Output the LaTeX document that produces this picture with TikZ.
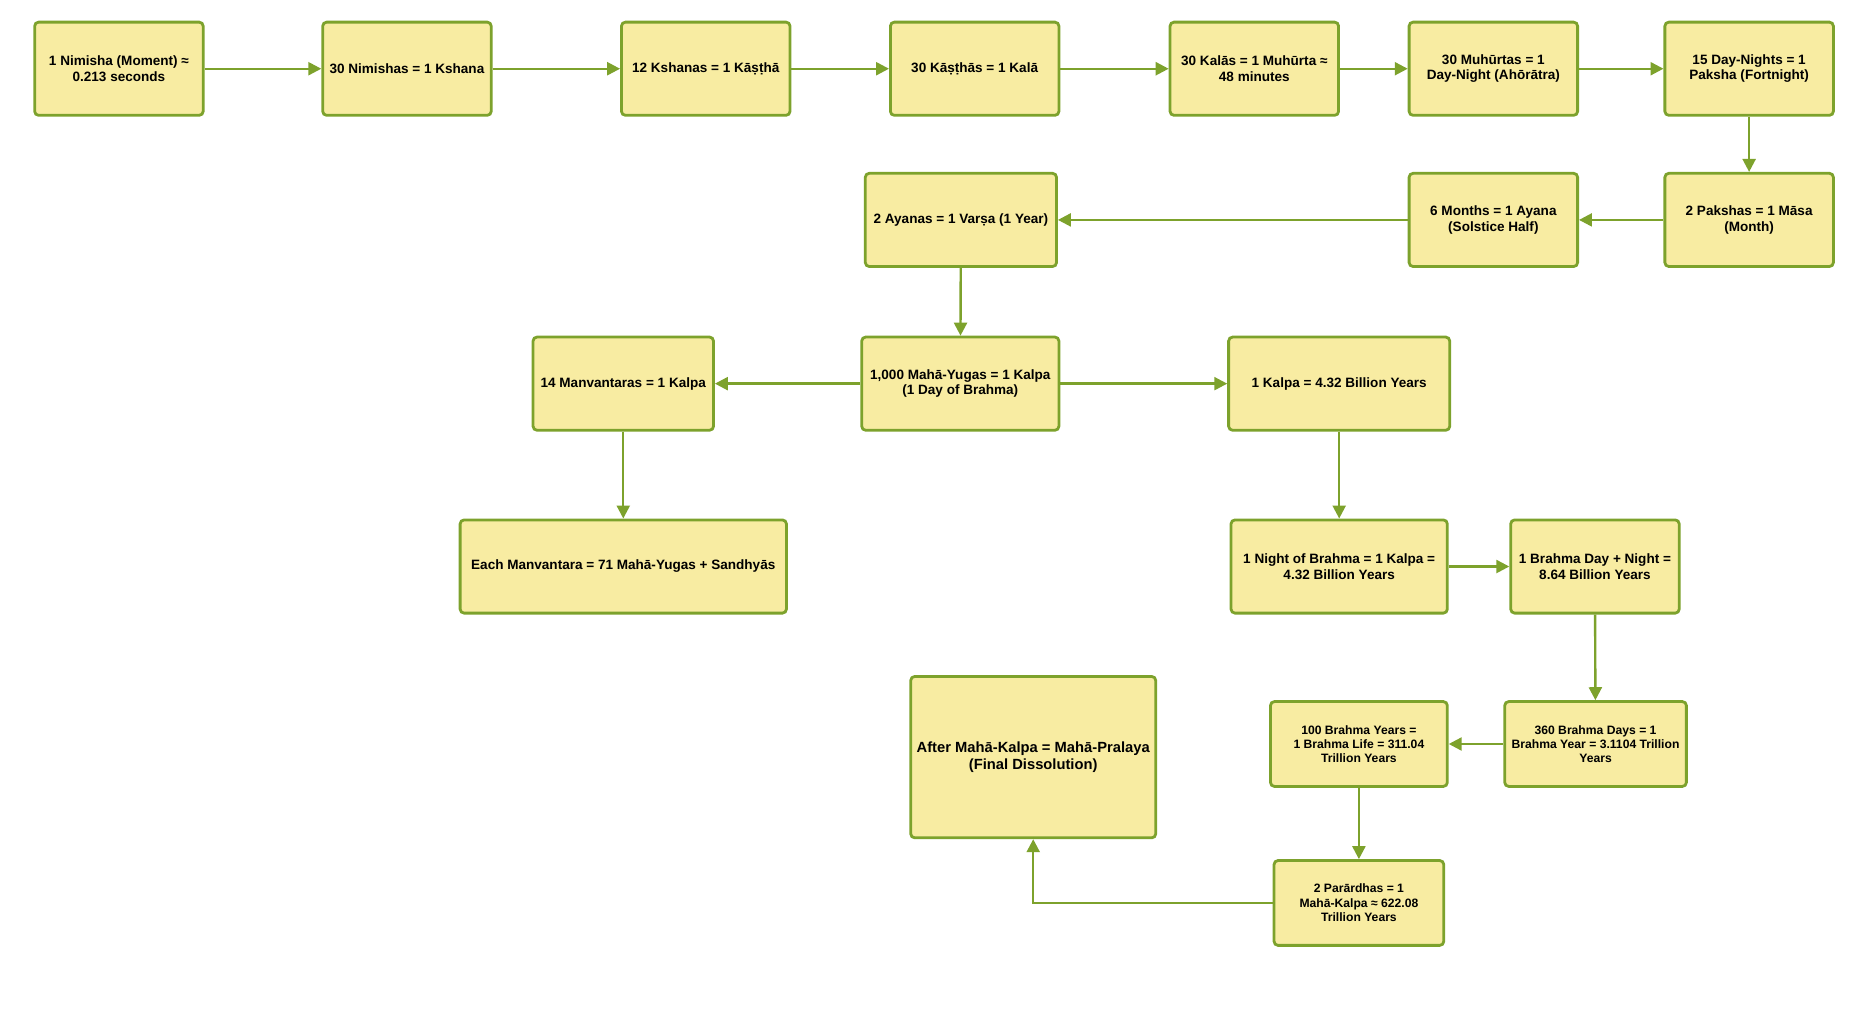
\documentclass[tikz,border=0pt]{standalone}
\usepackage{fontspec}
\setmainfont{Liberation Sans}
\usepackage{tikz}
\usetikzlibrary{shapes.geometric, arrows.meta}
\definecolor{leaf}{HTML}{7DA22C}
\definecolor{straw}{HTML}{F8ECA2}
\tikzstyle{unit} = [rectangle, rounded corners=2pt, minimum width=84.6pt, minimum height=46.8pt, text centered, align=center, draw=leaf, line width=1.4pt, fill=straw, inner sep=1pt, font=\fontsize{6.8}{7.7}\selectfont\bfseries]
\tikzstyle{small} = [font=\fontsize{6.1}{7.2}\selectfont\bfseries]
\tikzstyle{arrow} = [line width=1.2pt, draw=leaf, -{Triangle[length=6.5pt,width=6.5pt]}]

\begin{document}
\begin{tikzpicture}[x=0.6pt, y=-0.6pt]
    \useasboundingbox [fill=white] (0,0) rectangle (1568,847);
    % row 1
    \node (Nimisha) [unit] at (99.5,57.5) {1 Nimisha (Moment) ≈\\0.213 seconds};
    \node (Kshana) [unit] at (340.5,57.5) {30 Nimishas = 1 Kshana};
    \node (Kashtha) [unit] at (590.5,57.5) {12 Kshanas = 1 Kāṣṭhā};
    \node (Kala) [unit] at (815.5,57.5) {30 Kāṣṭhās = 1 Kalā};
    \node (Muhurta) [unit] at (1049.5,57.5) {30 Kalās = 1 Muhūrta ≈\\48 minutes};
    \node (DayNight) [unit] at (1249.5,57.5) {30 Muhūrtas = 1\\Day-Night (Ahōrātra)};
    \node (Paksha) [unit] at (1463.5,57.5) {15 Day-Nights = 1\\Paksha (Fortnight)};
    % row 2
    \node (Masa) [unit] at (1463.5,184) {2 Pakshas = 1 Māsa\\(Month)};
    \node (Ayana) [unit] at (1249.5,184) {6 Months = 1 Ayana\\(Solstice Half)};
    \node (Varsa) [unit, minimum width=96pt] at (804,184) {2 Ayanas = 1 Varṣa (1 Year)};
    % row 3
    \node (Kalpa) [unit, minimum width=99pt] at (803.5,321) {1,000 Mahā-Yugas = 1 Kalpa\\(1 Day of Brahma)};
    \node (Manvantara) [unit, minimum width=90.6pt] at (521.5,321) {14 Manvantaras = 1 Kalpa};
    \node (KalpaYears) [unit, minimum width=111pt] at (1120.5,321) {1 Kalpa = 4.32 Billion Years};
    % row 4
    \node (ManvantaraYugas) [unit, minimum width=163.8pt] at (521.5,474) {Each Manvantara = 71 Mahā-Yugas + Sandhyās};
    \node (BrahmaNight) [unit, minimum width=108.6pt] at (1120.5,474) {1 Night of Brahma = 1 Kalpa =\\4.32 Billion Years};
    \node (BrahmaDayNight) [unit] at (1334.5,474) {1 Brahma Day + Night =\\8.64 Billion Years};
    % rows 5 and 6
    \node (Pralaya) [unit, minimum width=123pt, minimum height=81pt, font=\fontsize{7.4}{8.4}\selectfont\bfseries] at (864.5,633.5) {After Mahā-Kalpa = Mahā-Pralaya\\(Final Dissolution)};
    \node (BrahmaLife) [unit, small, minimum width=88.8pt, minimum height=42.6pt] at (1137,622.5) {100 Brahma Years =\\1 Brahma Life = 311.04\\Trillion Years};
    \node (BrahmaYear) [unit, small, minimum width=91.2pt, minimum height=42.6pt] at (1335,622.5) {360 Brahma Days = 1\\Brahma Year = 3.1104 Trillion\\Years};
    \node (MahaKalpa) [unit, small, minimum width=85.2pt, minimum height=42.6pt] at (1137,755.5) {2 Parārdhas = 1\\Mahā-Kalpa ≈ 622.08\\Trillion Years};

    \draw [arrow] (Nimisha) -- (Kshana);
    \draw [arrow] (Kshana) -- (Kashtha);
    \draw [arrow] (Kashtha) -- (Kala);
    \draw [arrow] (Kala) -- (Muhurta);
    \draw [arrow] (Muhurta) -- (DayNight);
    \draw [arrow] (DayNight) -- (Paksha);
    \draw [arrow] (Paksha) -- (Masa);
    \draw [arrow] (Masa) -- (Ayana);
    \draw [arrow] (Ayana) -- (Varsa);
    \draw [arrow] (Varsa) -- (Kalpa);
    \draw [arrow] (Kalpa) -- (Manvantara);
    \draw [arrow] (Kalpa) -- (KalpaYears);
    \draw [arrow] (Manvantara) -- (ManvantaraYugas);
    \draw [arrow] (KalpaYears) -- (BrahmaNight);
    \draw [arrow] (BrahmaNight) -- (BrahmaDayNight);
    \draw [arrow] (BrahmaDayNight) -- (BrahmaYear);
    \draw [arrow] (BrahmaYear) -- (BrahmaLife);
    \draw [arrow] (BrahmaLife) -- (MahaKalpa);
    \draw [arrow] (MahaKalpa.west) -| (Pralaya.south);
\end{tikzpicture}
\end{document}
